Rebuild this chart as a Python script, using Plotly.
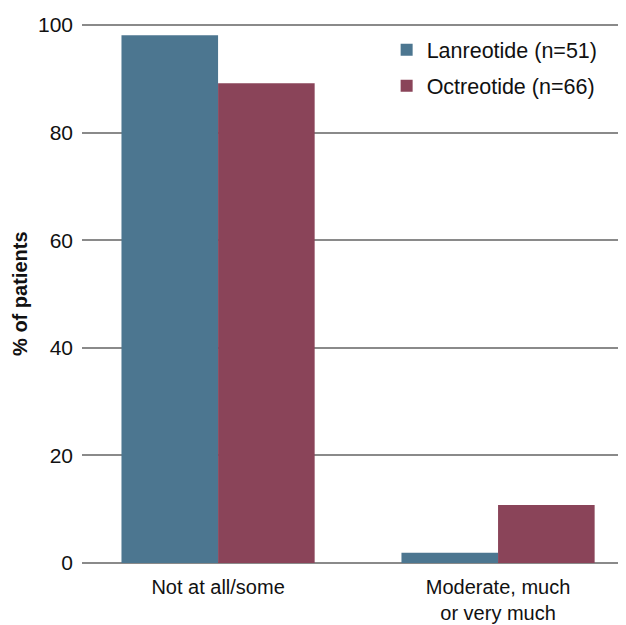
import plotly.graph_objects as go

categories = ["Not at all/some", "Moderate, much<br>or very much"]
lanreotide = [98.1, 1.9]
octreotide = [89.2, 10.8]
series_names = ["Lanreotide (n=51)", "Octreotide (n=66)"]
y_ticks = [0, 20, 40, 60, 80, 100]
y_title = "% of patients"

fig = go.Figure()
fig.add_trace(go.Bar(x=categories, y=lanreotide, name=series_names[0], legendgroup="a",
                     marker=dict(color="#4C7690", line=dict(width=0))))
fig.add_trace(go.Bar(x=categories, y=octreotide, name=series_names[1], legendgroup="b",
                     marker=dict(color="#8A4459", line=dict(width=0))))

fig.update_layout(
    width=618, height=617,
    margin=dict(l=74, r=0, t=16, b=62, autoexpand=False),
    paper_bgcolor="white", plot_bgcolor="white",
    barmode="group", bargap=0.31, bargroupgap=0,
    font=dict(family="Liberation Sans, Arial, sans-serif", size=21, color="#111"),
    legend=dict(x=0.56, y=0.99, xanchor="left", yanchor="top",
                font=dict(size=21.5), bgcolor="rgba(0,0,0,0)",
                itemwidth=30, tracegroupgap=5),
    xaxis=dict(range=[-0.486, 1.457], showgrid=False, showline=False,
               ticks="", tickfont=dict(size=20), ticklabelstandoff=10,
               automargin=False),
    yaxis=dict(range=[0, 100.2], tickvals=y_ticks, showgrid=True,
               gridcolor="#8a8a8a", gridwidth=2, zeroline=True,
               zerolinecolor="#8a8a8a", zerolinewidth=2, showline=False,
               ticks="", ticklabelstandoff=8, tickfont=dict(size=21),
               automargin=False),
    annotations=[dict(text="<b>" + y_title + "</b>", xref="paper", yref="paper",
                      x=-0.115, y=0.5, xanchor="center", yanchor="middle",
                      textangle=-90, showarrow=False, font=dict(size=20))],
)

fig.write_html("out.html")
